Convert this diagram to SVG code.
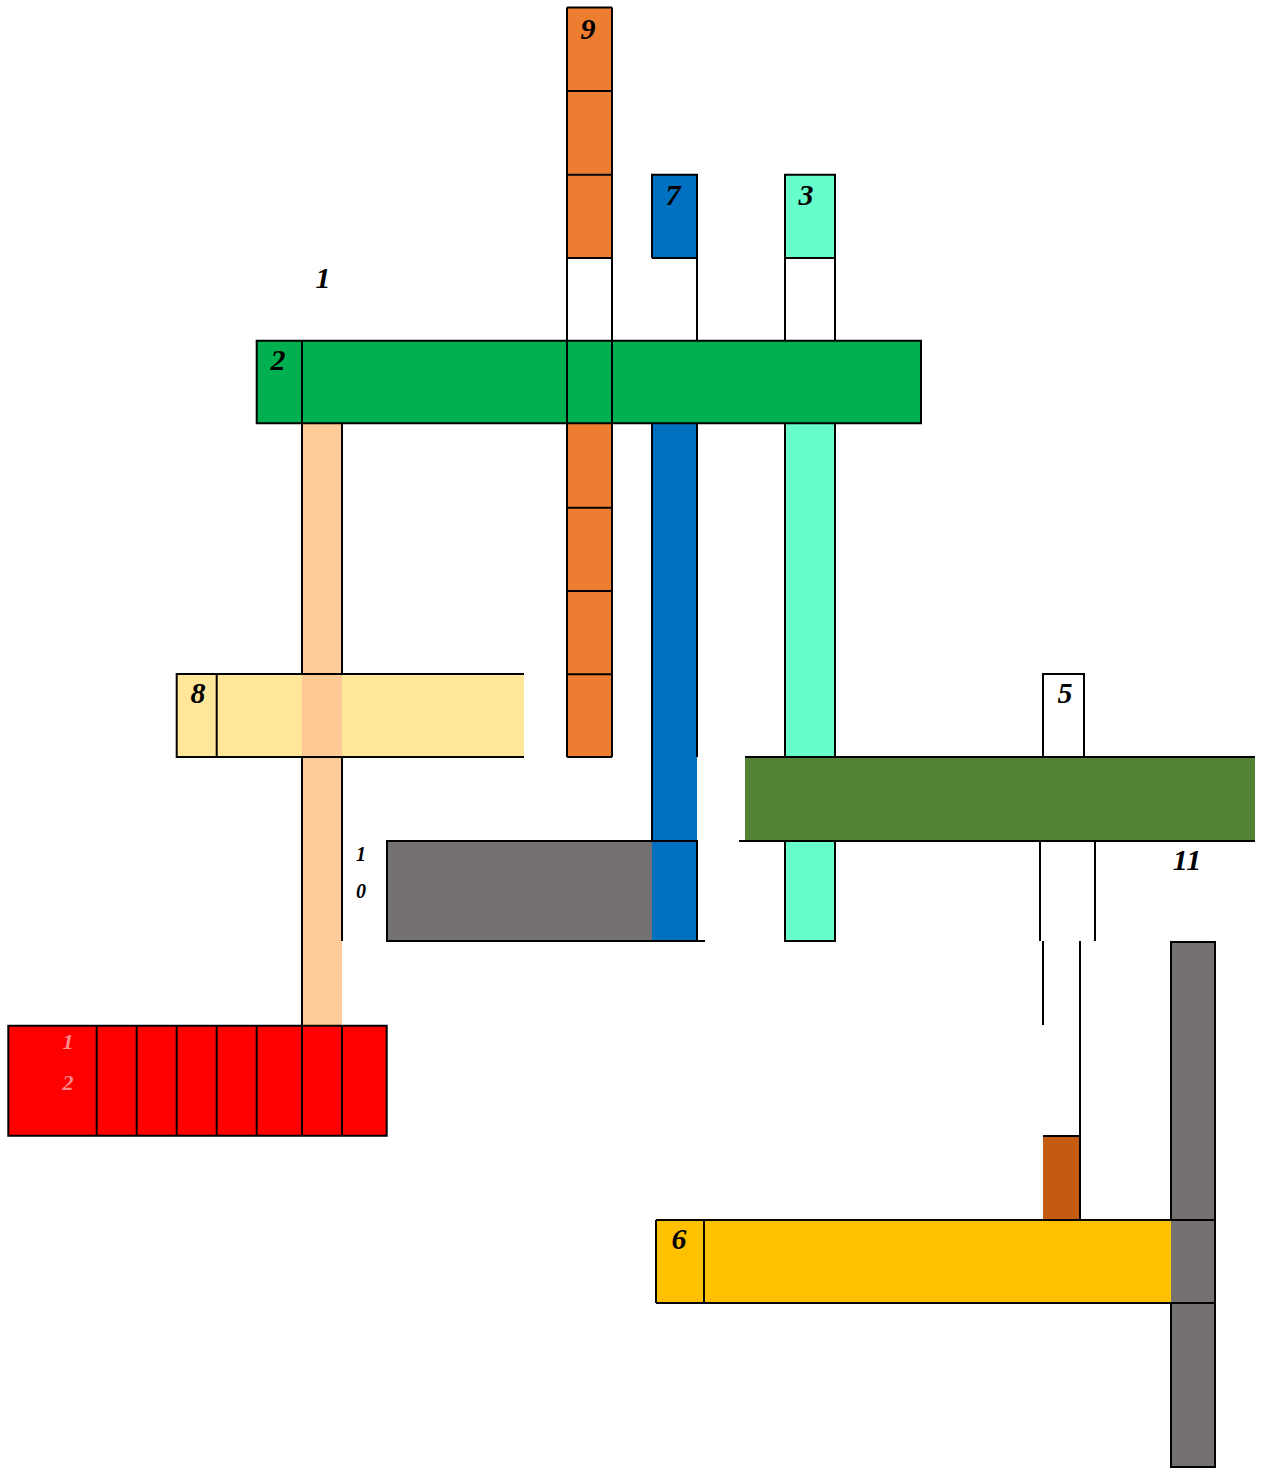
<svg xmlns="http://www.w3.org/2000/svg" width="1263" height="1472" viewBox="0 0 1263 1472">
<style>
.ln{stroke:#000;stroke-width:2;fill:none}
.lbl{font-family:"Liberation Serif","Times New Roman",serif;font-weight:bold;font-style:italic;font-size:30px;fill:#000;text-anchor:middle}
.sm{font-size:20px}
.pk{font-size:22px;fill:#FF8A8A}
</style>
<rect width="1263" height="1472" fill="#fff"/>
<g id="word9">
<rect x="567" y="7.5" width="45" height="250.5" fill="#ED7D31"/>
<rect x="567" y="424" width="45" height="333" fill="#ED7D31"/>
</g>
<g id="word7">
<rect x="652" y="174.7" width="45" height="83.3" fill="#0070C0"/>
<rect x="652" y="424" width="45" height="517" fill="#0070C0"/>
</g>
<g id="word3">
<rect x="785" y="174.7" width="50" height="83.3" fill="#66FFCC"/>
<rect x="785" y="424" width="50" height="517" fill="#66FFCC"/>
</g>
<g id="word2">
<rect x="256.7" y="340.7" width="664.3" height="82.7" fill="#00B050"/>
</g>
<g id="word1">
<rect x="302" y="424" width="40" height="601" fill="#FFCC99"/>
</g>
<g id="word8">
<rect x="176.7" y="674" width="347.3" height="83" fill="#FFE699"/>
<rect x="302" y="674" width="40" height="83" fill="#FFC995"/>
</g>
<g id="word10">
<rect x="387" y="841" width="265" height="100" fill="#767171"/>
<rect x="652" y="841" width="45" height="100" fill="#0070C0"/>
</g>
<g id="word11">
<rect x="745" y="757" width="510" height="84" fill="#548235"/>
</g>
<g id="word5">
<rect x="1043" y="674" width="41" height="83" fill="#fff"/>
</g>
<g id="word12">
<rect x="8.3" y="1025.7" width="378.4" height="110" fill="#FF0000"/>
</g>
<g id="word4">
<rect x="1171" y="942" width="44" height="525" fill="#767171"/>
</g>
<g id="word6">
<rect x="656" y="1220" width="515" height="83" fill="#FFC000"/>
</g>
<g id="cellBrown">
<rect x="1043" y="1136" width="37" height="84" fill="#C55A11"/>
</g>
<g id="connectors" class="ln">
<path d="M567,7.5V757M612,7.5V757M567,7.5H612M567,91H612M567,174.7H612M567,258H612M567,507.7H612M567,591H612M567,674.3H612M567,757H612"/>
<path d="M652,258V174.7H697V341M652,258H697M652,424V841M697,424V757"/>
<path d="M785,341V174.7H835V341M785,258H835M785,424V757M835,424V757M785,841V941H835V841"/>
<path d="M256.7,340.7H921V423.3H256.7ZM302,340.7V423.3"/>
<path d="M302,424V674M342,424V674M302,757V1025.7M342,757V941"/>
<path d="M524,674H176.7V757H524M216.7,674V757"/>
<path d="M697,941V841H387V941H705"/>
<path d="M745,757H1255M739,841H1255"/>
<path d="M1043,757V674H1084V757"/>
<path d="M1040,841V941M1095,841V941M1043,941V1025M1080,941V1220"/>
<path d="M1171,1220V942H1215V1467H1171V1303"/>
<path d="M656,1220H1215M656,1303H1215M656,1220V1303M704,1220V1303"/>
<path d="M1043,1136H1080"/>
<path d="M8.3,1025.7H386.7V1135.7H8.3ZM96.7,1025.7V1135.7M136.7,1025.7V1135.7M176.7,1025.7V1135.7M216.7,1025.7V1135.7M256.7,1025.7V1135.7M302,1025.7V1135.7M342,1025.7V1135.7"/>
</g>
<g id="labels">
<text class="lbl" x="588" y="39">9</text>
<text class="lbl" x="673" y="205">7</text>
<text class="lbl" x="806" y="205">3</text>
<text class="lbl" x="323" y="288">1</text>
<text class="lbl" x="278" y="370">2</text>
<text class="lbl" x="198" y="703">8</text>
<text class="lbl" x="1065" y="703">5</text>
<text class="lbl" x="1187" y="870">11</text>
<text class="lbl" x="679" y="1249">6</text>
<text class="lbl sm" x="361" y="861">1</text>
<text class="lbl sm" x="361" y="898">0</text>
<text class="lbl pk" x="68" y="1049">1</text>
<text class="lbl pk" x="68" y="1090">2</text>
</g>
</svg>
